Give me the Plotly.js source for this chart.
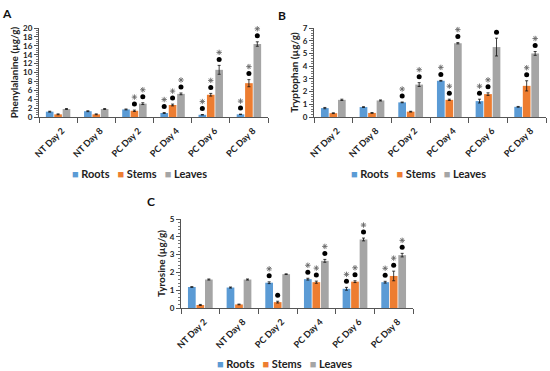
<!DOCTYPE html>
<html>
<head>
<meta charset="utf-8">
<script src="https://cdn.plot.ly/plotly-3.0.1.min.js"></script>
<style>html,body{margin:0;padding:0;background:#fff;}#chart{width:550px;height:371px;}</style>
</head>
<body>
<div id="chart"></div>
<script>
// ---- Data ----
const categories = ["NT Day 2", "NT Day 8", "PC Day 2", "PC Day 4", "PC Day 6", "PC Day 8"];
const seriesNames = ["Roots", "Stems", "Leaves"];

// Phenylalanine (µg/g)
const pheRoots = [1.2, 1.3, 1.7, 0.9, 0.5, 0.6];
const pheStems = [0.6, 0.6, 1.4, 2.7, 5.0, 7.6];
const pheLeaves = [1.8, 1.8, 3.0, 5.2, 10.6, 16.4];
const pheRootsErr = [0.1, 0.1, 0.1, 0.1, 0.05, 0.05];
const pheStemsErr = [0.1, 0.1, 0.15, 0.2, 0.3, 0.8];
const pheLeavesErr = [0.1, 0.1, 0.2, 0.2, 1.0, 0.5];
const pheRootsSig = ["", "", "", "*•", "*•", "*•"];
const pheStemsSig = ["", "", "*•", "*•", "*•", "*•"];
const pheLeavesSig = ["", "", "*•", "*•", "*•", "*•"];

// Tryptophan (µg/g)
const trpRoots = [0.7, 0.78, 1.15, 2.85, 1.25, 0.8];
const trpStems = [0.3, 0.32, 0.42, 1.35, 1.8, 2.45];
const trpLeaves = [1.35, 1.3, 2.55, 5.8, 5.5, 5.0];
const trpRootsErr = [0.05, 0.03, 0.03, 0.03, 0.15, 0.03];
const trpStemsErr = [0.03, 0.03, 0.03, 0.05, 0.1, 0.4];
const trpLeavesErr = [0.05, 0.04, 0.15, 0.05, 0.7, 0.15];
const trpRootsSig = ["", "", "*•", "*•", "*•", ""];
const trpStemsSig = ["", "", "", "*•", "*•", "*•"];
const trpLeavesSig = ["", "", "*•", "*•", "*•", "*•"];

// Tyrosine (µg/g)
const tyrRoots = [1.18, 1.15, 1.42, 1.62, 1.08, 1.45];
const tyrStems = [0.17, 0.2, 0.33, 1.45, 1.48, 1.8];
const tyrLeaves = [1.6, 1.6, 1.9, 2.65, 3.85, 2.97];
const tyrRootsErr = [0.02, 0.03, 0.05, 0.05, 0.08, 0.05];
const tyrStemsErr = [0.03, 0.02, 0.05, 0.06, 0.05, 0.27];
const tyrLeavesErr = [0.03, 0.03, 0.02, 0.08, 0.08, 0.1];
const tyrRootsSig = ["", "", "*•", "*•", "*•", "*•"];
const tyrStemsSig = ["", "", "•", "*•", "*•", "*•"];
const tyrLeavesSig = ["", "", "", "*•", "*•", "*•"];

// ---- Styles ----
const colors = ["#5B9BD5", "#ED7D31", "#A5A5A5"];
const FONT = "Lato, 'Liberation Sans', Arial, sans-serif";
const offsets = [-0.22, 0, 0.22];
const barWidth = 0.2;
const plotHeightPx = 89;

const panels = [
  { xa: "x", ya: "y", xaxis: "xaxis", yaxis: "yaxis",
    vals: [pheRoots, pheStems, pheLeaves], errs: [pheRootsErr, pheStemsErr, pheLeavesErr],
    sigs: [pheRootsSig, pheStemsSig, pheLeavesSig], ymax: 20, dtick: 2, minor: 0.5,
    title: "Phenylalanine (µg/g)",
    xdom: [39/550, 268/550], ydom: [1-117/371, 1-28/371], legendPos: [139/550, 1-173/371] },
  { xa: "x2", ya: "y2", xaxis: "xaxis2", yaxis: "yaxis2",
    vals: [trpRoots, trpStems, trpLeaves], errs: [trpRootsErr, trpStemsErr, trpLeavesErr],
    sigs: [trpRootsSig, trpStemsSig, trpLeavesSig], ymax: 7, dtick: 1, minor: 0.2,
    title: "Tryptophan (µg/g)",
    xdom: [314/550, 546/550], ydom: [1-117/371, 1-28/371], legendPos: [418/550, 1-173/371] },
  { xa: "x3", ya: "y3", xaxis: "xaxis3", yaxis: "yaxis3",
    vals: [tyrRoots, tyrStems, tyrLeaves], errs: [tyrRootsErr, tyrStemsErr, tyrLeavesErr],
    sigs: [tyrRootsSig, tyrStemsSig, tyrLeavesSig], ymax: 5, dtick: 1, minor: 0.2,
    title: "Tyrosine (µg/g)",
    xdom: [181/550, 413/550], ydom: [1-308/371, 1-219/371], legendPos: [284/550, 1-363/371] }
];

const traces = [];
const layout = {
  width: 550, height: 371,
  margin: { l: 0, r: 0, t: 0, b: 0 },
  paper_bgcolor: "#fff", plot_bgcolor: "#fff",
  showlegend: false,
  font: { family: FONT, color: "#222", weight: "bold" },
  annotations: [
    { text: "A", x: 7/550, y: 1-13/371, xref: "paper", yref: "paper", showarrow: false, xanchor: "center", yanchor: "middle", font: { size: 12, family: FONT, weight: "bold", color: "#111" } },
    { text: "B", x: 282/550, y: 1-15/371, xref: "paper", yref: "paper", showarrow: false, xanchor: "center", yanchor: "middle", font: { size: 12, family: FONT, weight: "bold", color: "#111" } },
    { text: "C", x: 151/550, y: 1-201/371, xref: "paper", yref: "paper", showarrow: false, xanchor: "center", yanchor: "middle", font: { size: 12, family: FONT, weight: "bold", color: "#111" } }
  ]
};

panels.forEach(function (p) {
  const unit = p.ymax / plotHeightPx; // data units per pixel
  const starX = [], starY = [], dotX = [], dotY = [];
  seriesNames.forEach(function (name, k) {
    const xs = categories.map(function (_, i) { return i + offsets[k]; });
    traces.push({
      type: "bar", name: name, x: xs, y: p.vals[k], width: barWidth,
      xaxis: p.xa, yaxis: p.ya, showlegend: false,
      marker: { color: colors[k], line: { width: 0 } },
      error_y: { type: "data", array: p.errs[k], visible: true, color: "#111", thickness: 0.8, width: 1.5 },
      hoverinfo: "y"
    });
    p.sigs[k].forEach(function (s, i) {
      const top = p.vals[k][i] + p.errs[k][i];
      if (s.indexOf("•") >= 0) { dotX.push(xs[i]); dotY.push(top + 6 * unit); }
      if (s.indexOf("*") >= 0) { starX.push(xs[i]); starY.push(top + 13 * unit); }
    });
  });
  traces.push({
    type: "scatter", mode: "markers", x: dotX, y: dotY, xaxis: p.xa, yaxis: p.ya,
    showlegend: false, hoverinfo: "skip", cliponaxis: false,
    marker: { symbol: "circle", size: 5, color: "#000" }
  });
  traces.push({
    type: "scatter", mode: "markers", x: starX, y: starY, xaxis: p.xa, yaxis: p.ya,
    showlegend: false, hoverinfo: "skip", cliponaxis: false,
    marker: { symbol: "asterisk-open", size: 4.5, color: "#666", line: { color: "#666", width: 0.9 } }
  });

  layout[p.xaxis] = {
    domain: p.xdom, anchor: p.ya, range: [-0.5, 5.5], fixedrange: true,
    tickmode: "array", tickvals: categories.map(function (_, i) { return i; }), ticktext: categories,
    ticks: "outside", ticklen: 4, tickcolor: "rgba(0,0,0,0)", tickangle: -45, ticklabelshift: 4,
    tickfont: { family: FONT, size: 9, weight: "bold", color: "#222" },
    showline: true, linecolor: "#555", linewidth: 1, showgrid: false, zeroline: false,
    minor: { tick0: -0.5, dtick: 1, ticks: "outside", ticklen: 5, tickcolor: "#555", showgrid: false }
  };
  layout[p.yaxis] = {
    domain: p.ydom, anchor: p.xa, range: [0, p.ymax], dtick: p.dtick, fixedrange: true,
    ticks: "outside", ticklen: 4, tickcolor: "#555",
    tickfont: { family: FONT, size: 8, weight: "bold", color: "#222" },
    showline: true, linecolor: "#555", linewidth: 1, showgrid: false, zeroline: false,
    minor: { dtick: p.minor, ticks: "outside", ticklen: 2, tickcolor: "#777", showgrid: false },
    title: { text: p.title, standoff: 2, font: { family: FONT, size: 10, weight: "bold", color: "#222" } }
  };
  // compact legend, built from the series names and colours
  const legendText = seriesNames.map(function (n, k) {
    return '<span style="color:' + colors[k] + '">■</span> ' + n;
  }).join("   ");
  layout.annotations.push({
    text: legendText, x: p.legendPos[0], y: p.legendPos[1], xref: "paper", yref: "paper",
    showarrow: false, xanchor: "center", yanchor: "middle",
    font: { family: FONT, size: 11, weight: "bold", color: "#222" }
  });
});

Plotly.newPlot("chart", traces, layout, { displayModeBar: false, staticPlot: true });
</script>
</body>
</html>
